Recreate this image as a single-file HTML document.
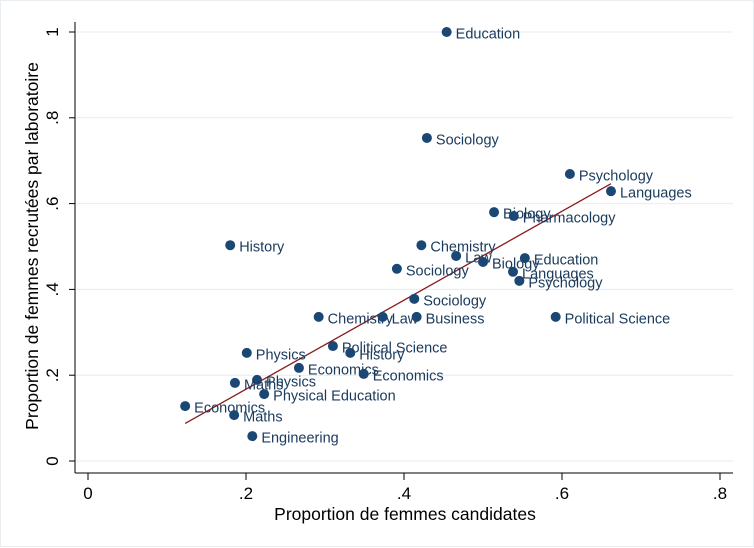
<!DOCTYPE html>
<html><head><meta charset="utf-8"><style>
html,body{margin:0;padding:0;background:#fff;}
svg{display:block;font-family:"Liberation Sans",sans-serif;}
</style></head><body>
<svg id="chart" width="754" height="548" viewBox="0 0 754 548">
<rect x="0.5" y="0.5" width="753" height="546" fill="#fff" stroke="#e8edf2"/>
<g id="grid"></g>
<g id="axes"></g>
<g id="fit"></g>
<g id="points"></g>
<text x="405" y="520" font-size="17.5" text-anchor="middle" fill="#000">Proportion de femmes candidates</text>
<text transform="translate(38,246) rotate(-90)" font-size="17.5" text-anchor="middle" fill="#000">Proportion de femmes recrutées par laboratoire</text>
</svg>
<script>
const labels=["Education","Sociology","Psychology","Languages","Biology","Pharmacology","History","Chemistry","Law","Biology","Education","Sociology","Languages","Psychology","Sociology","Chemistry","Law","Business","Political Science","Political Science","History","Physics","Economics","Economics","Physics","Maths","Physical Education","Economics","Maths","Engineering"];
const xVals=[0.454,0.429,0.610,0.662,0.514,0.539,0.180,0.422,0.466,0.500,0.553,0.391,0.538,0.546,0.413,0.292,0.373,0.416,0.592,0.310,0.332,0.201,0.267,0.349,0.214,0.186,0.223,0.123,0.185,0.208];
const yVals=[1.0,0.753,0.669,0.629,0.580,0.571,0.503,0.503,0.478,0.464,0.473,0.448,0.441,0.420,0.378,0.336,0.336,0.336,0.336,0.268,0.252,0.252,0.217,0.203,0.189,0.182,0.156,0.128,0.107,0.058];
const xTicks=[0,0.2,0.4,0.6,0.8];
const xTickLabels=["0",".2",".4",".6",".8"];
const yTicks=[0,0.2,0.4,0.6,0.8,1];
const yTickLabels=["0",".2",".4",".6",".8","1"];
const fitSlope=1.037, fitIntercept=-0.040;

const NS="http://www.w3.org/2000/svg";
const sx=v=>88+v*790;
const sy=v=>461-v*429;
function mk(tag,attrs,parent,text){const e=document.createElementNS(NS,tag);for(const k in attrs)e.setAttribute(k,attrs[k]);if(text!==undefined)e.textContent=text;parent.appendChild(e);return e;}
const grid=document.getElementById('grid'),axes=document.getElementById('axes'),fit=document.getElementById('fit'),pts=document.getElementById('points');

mk('line',{x1:75,y1:22,x2:75,y2:473,stroke:'#000','stroke-width':1},axes);
mk('line',{x1:75,y1:473,x2:733,y2:473,stroke:'#000','stroke-width':1},axes);

yTicks.forEach((t,i)=>{
  const g=mk('line',{x1:76,y1:sy(t),x2:733,y2:sy(t),stroke:'#e6ecf2','stroke-width':1},grid);
  
  
  const tk=mk('line',{x1:69,y1:sy(t),x2:75,y2:sy(t),stroke:'#000'},axes);
  
  
  const lb=mk('text',{transform:`translate(58,${sy(t)}) rotate(-90)`,'font-size':17,'text-anchor':'middle',fill:'#000'},axes,yTickLabels[i]);
  
  
});
xTicks.forEach((t,i)=>{
  const tk=mk('line',{x1:sx(t),y1:473,x2:sx(t),y2:480,stroke:'#000'},axes);
  
  
  const lb=mk('text',{x:sx(t),y:499,'font-size':17,'text-anchor':'middle',fill:'#000'},axes,xTickLabels[i]);
  
  
});

const xmin=Math.min(...xVals),xmax=Math.max(...xVals);
const fl=mk('line',{x1:sx(xmin),y1:sy(fitIntercept+fitSlope*xmin),x2:sx(xmax),y2:sy(fitIntercept+fitSlope*xmax),stroke:'#8b1a1a','stroke-width':1.3},fit);



xVals.forEach((x,i)=>{
  const c=mk('circle',{cx:sx(x),cy:sy(yVals[i]),r:5,fill:'#1a4773'},pts);
  
  
  const t=mk('text',{x:sx(x)+9,y:sy(yVals[i])+6.5,'font-size':14.5,fill:'#1a3a5c'},pts,labels[i]);
  
  
});
</script>
</body></html>
